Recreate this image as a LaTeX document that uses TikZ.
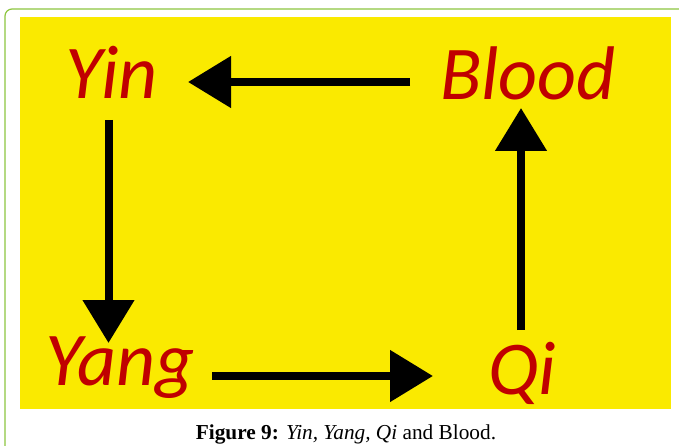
\documentclass[tikz,border=0pt]{standalone}
\usepackage{fontspec}
\setmainfont{Liberation Serif}
\newfontfamily\labelfont{Carlito}
\usetikzlibrary{arrows.meta}

\definecolor{panelyellow}{RGB}{250,234,0}
\definecolor{labelred}{RGB}{192,0,0}
\definecolor{framegreen}{RGB}{141,198,63}

\tikzset{
  term/.style={anchor=base west, inner sep=0pt, text=labelred,
    font=\labelfont\itshape\fontsize{76}{76}\selectfont},
  flow/.style={line width=8pt, line cap=butt,
    -{Triangle[length=43pt, width=50pt]}},
  caption/.style={anchor=base, inner sep=0pt, font=\fontsize{21.3}{24}\selectfont}
}

\begin{document}
\begin{tikzpicture}[x=1pt, y=1pt]
  \useasboundingbox (0,0) rectangle (679,-446);
  \fill[white] (0,0) rectangle (679,-446);
  \begin{scope}
    \clip (0,0) rectangle (679,-446);
    \draw[framegreen, line width=1.2pt, rounded corners=7pt] (5,-9) rectangle (720,-480);
  \end{scope}
  \fill[panelyellow] (20,-17) rectangle (671,-409);

  % the four terms
  \node[term] (yin)   at (65,-99)   {Yin};
  \node[term] (blood) at (440,-100) {Blood};
  \node[term] (yang)  at (45,-385)  {Yang};
  \node[term] (qi)    at (488,-394) {Qi};

  % the cycle Blood -> Yin -> Yang -> Qi -> Blood
  \draw[flow] ([shift={(-30,18)}]blood.base west) -- ([shift={(123,17)}]yin.base west);
  \draw[flow] ([shift={(43.5,-21)}]yin.base west) -- ([shift={(63.5,42)}]yang.base west);
  \draw[flow] ([shift={(167,9)}]yang.base west) -- ([shift={(-55,18)}]qi.base west);
  \draw[flow] ([shift={(33,64)}]qi.base west) -- ([shift={(81,-8)}]blood.base west);

  \node[caption] (cap) at (346,-439)
    {\textbf{Figure 9:} \textit{Yin, Yang, Qi} and Blood.};
\end{tikzpicture}
\end{document}
